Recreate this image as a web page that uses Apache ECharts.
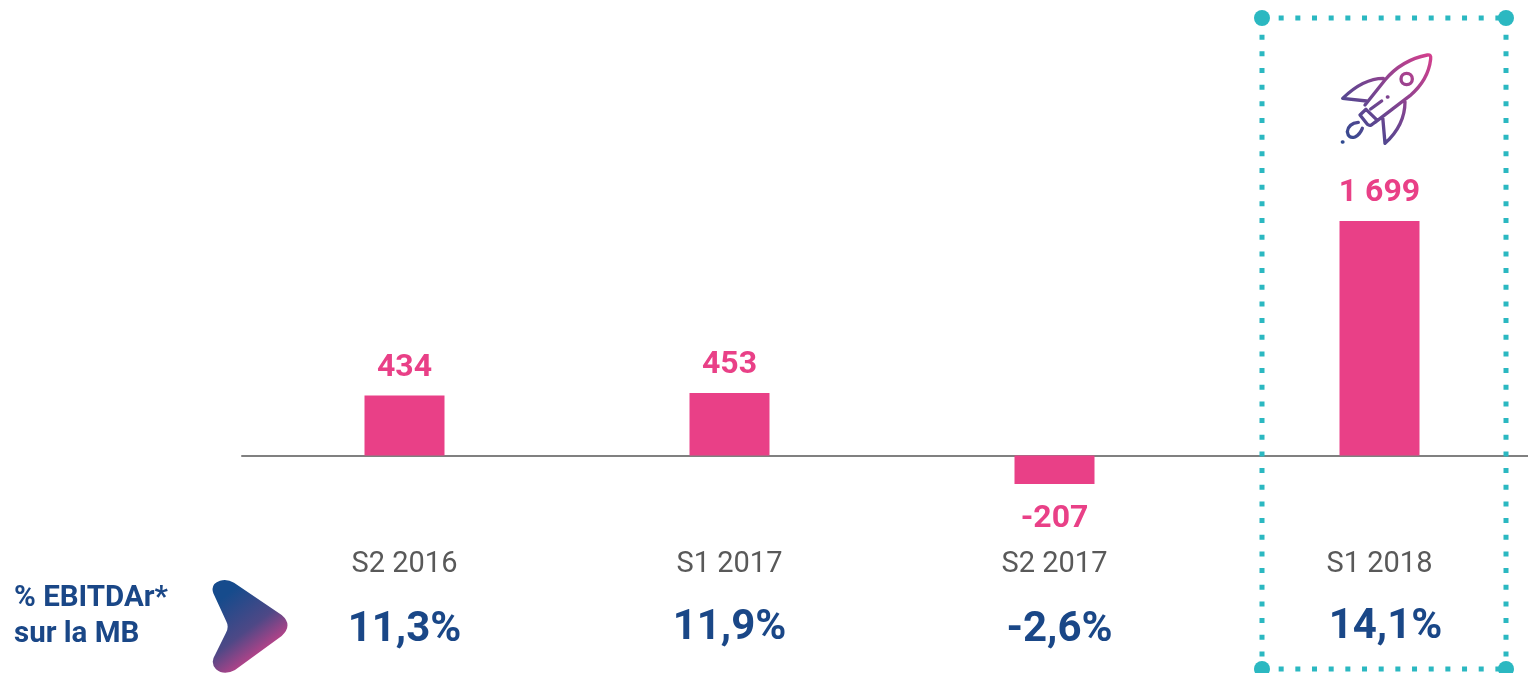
<!DOCTYPE html>
<html>
<head>
<meta charset="utf-8">
<style>html,body{margin:0;padding:0;background:#fff}#c{width:1528px;height:673px}</style>
<script src="https://cdn.jsdelivr.net/npm/echarts@6/dist/echarts.min.js"></script>
</head>
<body>
<div id="c"></div>
<script>
const categories = ['S2 2016', 'S1 2017', 'S2 2017', 'S1 2018'];
const values = [434, 453, -207, 1699];
const margins = ['11,3%', '11,9%', '-2,6%', '14,1%'];

const PINK = '#E94087', NAVY = '#1A4787', TEAL = '#2BB8C1', GREY = '#595959';
const FONT = 'Roboto';
const pctOffsets = [[0, 0], [0, -2], [5, 0], [6, -3]];

const chart = echarts.init(document.getElementById('c'), null, {renderer: 'canvas'});

const frame = {l: 1262, r: 1506, t: 18, b: 669};
const dash = {stroke: TEAL, lineWidth: 5, lineDash: [5, 11.67]};
const line = (x1, y1, x2, y2) => ({type: 'line', z: 20, shape: {x1, y1, x2, y2}, style: dash});
const dot = (cx, cy) => ({type: 'circle', z: 21, shape: {cx, cy, r: 8}, style: {fill: TEAL}});

const arrowPath = 'M640 100 Q630 72 660 62 Q682 56 702 68 L845 165 Q880 195 845 228 L705 330 ' +
  'Q672 348 648 328 Q630 308 645 285 L678 218 Q688 200 678 182 Z';
const rocketPath =
  'M105 180 L165 105 Q215 45 292 30 Q304 28 302 42 Q295 105 240 152 L135 232 ' +
  'M160 100 Q100 100 38 160 L110 168 ' +
  'M225 170 Q225 240 165 295 L158 215 ' +
  'M90 210 L108 193 L142 226 L124 240 Q118 243 112 238 Z ' +
  'M122 192 L155 168 ' +
  'M247 102 A17 17 0 1 1 213 102 A17 17 0 1 1 247 102 Z ' +
  'M172 156 L174 156 ' +
  'M85 232 Q55 235 52 260 Q55 282 75 276 Q90 268 97 250 ' +
  'M37 291 L39 291';

echarts.graphic.registerShape('arrowMark', echarts.graphic.extendPath(arrowPath, {}));
echarts.graphic.registerShape('rocketMark', echarts.graphic.extendPath(rocketPath, {}));

chart.setOption({
  animation: false,
  textStyle: {fontFamily: FONT},
  grid: {left: 242, top: 179.5, width: 1300, height: 483, containLabel: false, outerBoundsMode: 'none'},
  xAxis: {
    type: 'category',
    data: categories,
    axisLine: {onZero: true, lineStyle: {color: '#808080', width: 2}},
    axisTick: {show: false},
    axisLabel: {color: GREY, fontSize: 29, fontFamily: FONT, margin: -112, interval: 0}
  },
  yAxis: {type: 'value', min: -1500, max: 2000, show: false, splitLine: {show: false}},
  series: [
    {
      type: 'bar',
      data: values.map(v => (v < 0 ? {value: v, label: {distance: 19}} : v)),
      barWidth: 80,
      itemStyle: {color: PINK},
      label: {
        show: true,
        position: 'outside',
        distance: 12,
        color: PINK,
        fontFamily: FONT,
        fontSize: 32,
        fontWeight: 'bold',
        formatter: p => String(p.value).replace(/\B(?=(\d{3})+$)/g, ' ')
      }
    },
    {
      type: 'scatter',
      symbolSize: 1,
      itemStyle: {color: 'transparent', opacity: 1},
      silent: true,
      data: margins.map((m, i) => ({
        value: [i, -1265],
        name: m,
        label: {offset: pctOffsets[i]}
      })),
      label: {
        show: true,
        position: 'inside',
        color: NAVY,
        fontFamily: FONT,
        fontSize: 42,
        fontWeight: 'bold',
        formatter: p => p.name
      }
    }
  ],
  graphic: [
    line(frame.l, frame.t, frame.r, frame.t),
    line(frame.l, frame.b, frame.r, frame.b),
    line(frame.l, frame.t + 16.67, frame.l, frame.b),
    line(frame.r, frame.t + 16.67, frame.r, frame.b),
    dot(frame.l, frame.t), dot(frame.r, frame.t), dot(frame.l, frame.b), dot(frame.r, frame.b),
    {
      type: 'text', z: 10, x: 14, y: 580,
      style: {text: '% EBITDAr*\nsur la MB', fill: NAVY, font: 'bold 29.5px Roboto', lineHeight: 36.5}
    },
    {
      type: 'arrowMark', z: 10, x: 0, y: 560, scaleX: 1 / 3, scaleY: 1 / 3,
      style: {
        fill: new echarts.graphic.LinearGradient(0.2, 0.15, 0.85, 0.85, [
          {offset: 0, color: '#164B8C'}, {offset: 0.5, color: '#4E4886'}, {offset: 1, color: '#E9408A'}
        ])
      }
    },
    {
      type: 'rocketMark', z: 10, x: 1330, y: 45, scaleX: 1 / 3, scaleY: 1 / 3,
      style: {
        fill: 'none',
        lineWidth: 10,
        lineCap: 'round',
        lineJoin: 'round',
        stroke: new echarts.graphic.LinearGradient(0, 1, 1, 0, [
          {offset: 0, color: '#2B4A90'}, {offset: 0.5, color: '#7B4490'}, {offset: 1, color: '#D63F8D'}
        ])
      }
    }
  ]
});
</script>
</body>
</html>
